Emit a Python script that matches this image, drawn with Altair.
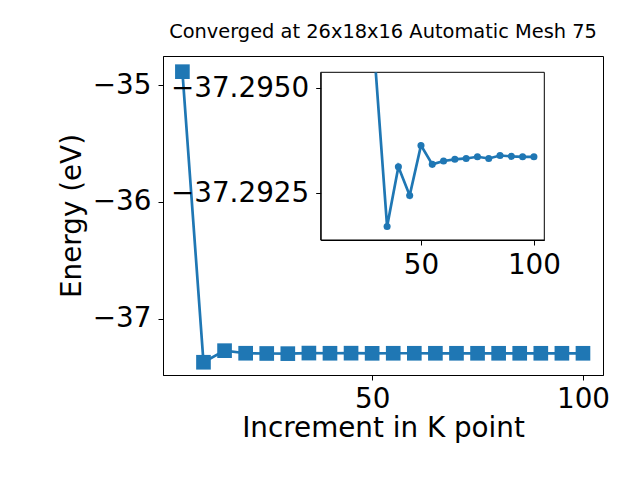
import altair as alt
import pandas as pd

# ---- data ----
k_points = [5, 10, 15, 20, 25, 30, 35, 40, 45, 50, 55, 60, 65, 70, 75, 80, 85, 90, 95, 100]
energy = [-34.886, -37.370, -37.271, -37.293, -37.295, -37.2964, -37.29171, -37.29313,
          -37.29245, -37.29364, -37.29319, -37.29327, -37.29331, -37.29333, -37.29337,
          -37.29333, -37.29340, -37.29338, -37.29337, -37.29337]
inset_start = 30

title_text = "Converged at 26x18x16 Automatic Mesh 75"
x_label = "Increment in K point"
y_label = "Energy (eV)"
main_x_ticks = [50, 100]
main_y_ticks = [-35, -36, -37]
inset_x_ticks = [50, 100]
inset_y_ticks = [-37.2950, -37.2925]

main_x_domain = [0.4, 104.75]
main_y_domain = [-37.479, -34.752]
inset_x_domain = [5.6, 104.6]
inset_y_domain = [-37.29538, -37.29139]   # shown reversed (top to bottom)

df = pd.DataFrame({"k": k_points, "E": energy})
inset_df = df[df["k"] >= inset_start].reset_index(drop=True)
frame_df = pd.DataFrame({"one": [1]})

FONT = "DejaVu Sans"
BLUE = "#1f77b4"
W, H = 440, 319
FS = 27.8

def minus_expr(fmt):
    return "replace(format(datum.value, '" + fmt + "'), '-', '\u2212')"

# ---- main axes ----
mx = alt.X("k:Q",
           scale=alt.Scale(domain=main_x_domain, nice=False, zero=False),
           axis=alt.Axis(values=main_x_ticks, title=x_label, orient="bottom",
                         labelBaseline="alphabetic", labelPadding=27,
                         titleY=61, titleBaseline="alphabetic"))
my = alt.Y("E:Q",
           scale=alt.Scale(domain=main_y_domain, nice=False, zero=False),
           axis=alt.Axis(values=main_y_ticks, title=y_label, orient="left",
                         labelExpr=minus_expr("d"), labelPadding=7,
                         titleX=-83, titleY=H / 2, titleAngle=-90,
                         titleBaseline="alphabetic", titleAlign="center"))

main_line = alt.Chart(df).mark_line(color=BLUE, strokeWidth=2.7).encode(x=mx, y=my)
main_pts = alt.Chart(df).mark_point(shape="square", filled=True, size=215,
                                    color=BLUE, opacity=1).encode(x="k:Q", y="E:Q")
main = alt.layer(main_line, main_pts)

# ---- inset axes ----
ix_scale = alt.Scale(domain=inset_x_domain, range=[157.7, 381.3], nice=False, zero=False)
iy_scale = alt.Scale(domain=inset_y_domain, range=[16.3, 184], nice=False, zero=False,
                     clamp=True)
ix = alt.X("k:Q", scale=ix_scale,
           axis=alt.Axis(values=inset_x_ticks, title=None, orient="bottom",
                         offset=184 - H, labelBaseline="alphabetic",
                         labelPadding=28, zindex=1))
iy = alt.Y("E:Q", scale=iy_scale,
           axis=alt.Axis(values=inset_y_ticks, title=None, orient="left",
                         offset=-157.7, labelExpr=minus_expr(".4f"),
                         labelPadding=7, zindex=1))

inset_frame = alt.Chart(frame_df).mark_rect(fill="white", stroke="black",
                                            strokeWidth=1).encode(
    x=alt.datum(inset_x_domain[0]), x2=alt.datum(inset_x_domain[1]),
    y=alt.datum(inset_y_domain[0]), y2=alt.datum(inset_y_domain[1]))
inset_line = alt.Chart(inset_df).mark_line(color=BLUE, strokeWidth=2.7).encode(x=ix, y=iy)
inset_pts = alt.Chart(inset_df).transform_filter(
    "datum.E >= " + str(inset_y_domain[0])
).mark_circle(size=50, color=BLUE, opacity=1).encode(x="k:Q", y="E:Q")
inset = alt.layer(inset_frame, inset_line, inset_pts)

chart = alt.layer(main, inset).resolve_scale(
    x="independent", y="independent"
).properties(
    width=W, height=H,
    title=alt.TitleParams(title_text, font=FONT, fontSize=19.4, fontWeight="normal",
                          anchor="middle", frame="group", baseline="alphabetic",
                          offset=17, dy=18, color="black"),
    autosize=alt.AutoSizeParams(type="none"),
    padding={"left": 155, "top": 48, "right": 20, "bottom": 75},
).configure_view(stroke="black", strokeWidth=1).configure_axis(
    labelFont=FONT, titleFont=FONT, labelFontSize=FS, titleFontSize=FS,
    titleFontWeight="normal", labelColor="black", titleColor="black",
    tickColor="black", domainColor="black", tickSize=5, tickWidth=1,
    domainWidth=1, grid=False, labelFlush=False, labelOverlap=False, labelBound=False
)

chart.save("out.html", embed_options={"renderer": "svg", "actions": False})
